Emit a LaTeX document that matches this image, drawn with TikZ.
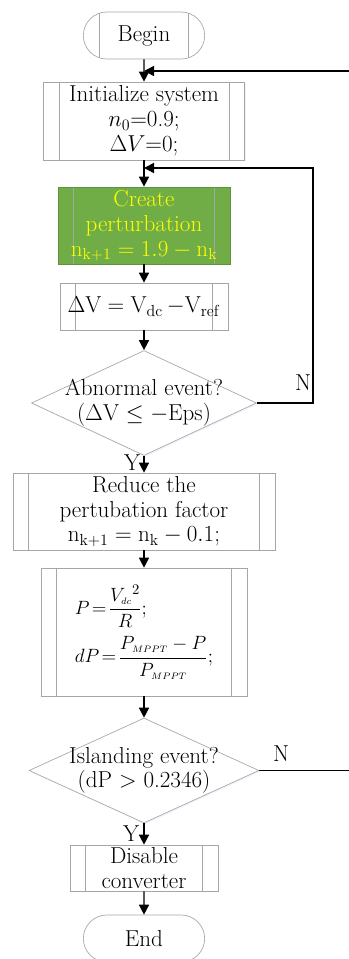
\documentclass[tikz,border=0pt]{standalone}
\usepackage{amsmath, amssymb}
\usepackage{tikz}
\usetikzlibrary{shapes.geometric, shapes.misc, arrows.meta, positioning, calc, shadows}
\definecolor{perturb_green}{HTML}{70AD47}
\definecolor{perturb_yellow}{HTML}{FFFF00}
\newcommand{\chartfont}{\fontsize{17.3}{18.6}\selectfont}
\newcommand{\formulafont}{\fontsize{15}{18}\selectfont}
% two lines of text that do not widen the diamond round them
\newcommand{\decisiontext}[2]{\makebox[0pt]{\begin{tabular}{@{}c@{}}#1\\#2\end{tabular}}}
\tikzset{
    side_bars/.style={
        path picture={
            \draw[draw=gray!70, line width=0.5pt]
                ([xshift=#1]path picture bounding box.north west) -- ([xshift=#1]path picture bounding box.south west)
                ([xshift=-#1]path picture bounding box.north east) -- ([xshift=-#1]path picture bounding box.south east);
        }
    },
    proc_box/.style={
        rectangle, draw=gray!70, line width=0.5pt, fill=white,
        align=center, inner sep=1pt, font=\chartfont, side_bars=11.5pt,
        drop shadow={shadow xshift=1pt, shadow yshift=-1pt, fill=blue!20, opacity=0.25}
    },
    green_box/.style={
        proc_box, fill=perturb_green, text=perturb_yellow,
        draw=perturb_green!85!black
    },
    term_box/.style={
        rounded rectangle, draw=gray!70, line width=0.5pt, fill=white,
        minimum width=93pt, minimum height=35.25pt,
        align=center, inner sep=1pt, font=\chartfont
    },
    decision_box/.style={
        diamond, draw=gray!70, line width=0.5pt, fill=white, aspect=2.15,
        inner sep=0pt, font=\chartfont,
        drop shadow={shadow xshift=1pt, shadow yshift=-1pt, fill=blue!20, opacity=0.25}
    },
    flow_arrow/.style={
        -{Triangle[width=7.5pt, length=7.5pt]}, line width=1.1pt, draw=black
    },
    lbl/.style={
        font=\chartfont, inner sep=0pt
    }
}

\begin{document}
\begin{tikzpicture}[x=0.75pt, y=-0.75pt]
    \useasboundingbox (0,0) rectangle (349,959);

    \node[term_box, side_bars=12pt] (start) at (144,35.5) {Begin};
    \node[proc_box, minimum width=150.75pt, minimum height=58.5pt] (init) at (144,121)
        {Initialize system\\$n_0$=0.9;\\$\Delta V$=0;};
    \node[green_box, minimum width=129pt, minimum height=57.75pt] (perturb) at (144,225.5)
        {Create\\perturbation\\$\mathrm{n_{k+1}} = 1.9 - \mathrm{n_k}$};
    \node[proc_box, minimum width=126pt, minimum height=35.25pt] (dv_calc) at (144,306.5)
        {$\Delta\mathrm{V} = \mathrm{V_{dc}} \,{-}\mathrm{V_{ref}}$};
    \node[decision_box, minimum width=168.75pt, minimum height=78.75pt] (abnormal) at (144,403)
        {\raisebox{-4.5pt}{\decisiontext{Abnormal event?}{(\(\Delta\)V \(\leq -\)Eps)}}};
    \node[proc_box, minimum width=196.5pt, minimum height=57.75pt] (reduce) at (144,511.5)
        {Reduce the\\pertubation factor\\$\mathrm{n_{k+1}} = \mathrm{n_k} - 0.1;$};
    \node[proc_box, minimum width=154.5pt, minimum height=96pt, align=left, font=\formulafont] (power_calc) at (144,632)
        {$\displaystyle P\!=\!\frac{V_{\scriptscriptstyle dc}{}^{2}}{R};$\\[6pt]
         $\displaystyle dP\!=\!\frac{P_{\scriptscriptstyle MPPT}-P}{P_{\scriptscriptstyle MPPT}};$};
    \node[decision_box, minimum width=172.5pt, minimum height=78.75pt] (islanding) at (144,770.5)
        {\decisiontext{Islanding event?}{(dP $>$ 0.2346)}};
    \node[proc_box, minimum width=111pt, minimum height=34.5pt] (disable) at (144,868)
        {Disable\\converter};
    \node[term_box] (stop) at (144,938.5) {End};

    % merge points of the loops
    \coordinate (join_top) at (144,71);
    \coordinate (join_mid) at (144,168);
    \coordinate (far_right) at (356,71);

    \draw[flow_arrow] (start) -- (init);
    \draw[flow_arrow] (init) -- (perturb);
    \draw[flow_arrow] (perturb) -- (dv_calc);
    \draw[flow_arrow] (dv_calc) -- (abnormal);
    \draw[flow_arrow] (abnormal) -- (reduce);
    \draw[flow_arrow] (reduce) -- (power_calc);
    \draw[flow_arrow] (power_calc) -- (islanding);
    \draw[flow_arrow] (islanding) -- (disable);
    \draw[flow_arrow] (disable) -- (stop);

    \draw[flow_arrow] (abnormal.east) -- ++(56,0) |- (join_mid);
    \draw[flow_arrow] (islanding.east) -| (far_right) -- (join_top);

    \node[lbl] (n_abn) at (303,383) {N};
    \node[lbl] (y_abn) at (132,463) {Y};
    \node[lbl] (n_isl) at (281,754) {N};
    \node[lbl] (y_isl) at (131,834) {Y};

\end{tikzpicture}
\end{document}
